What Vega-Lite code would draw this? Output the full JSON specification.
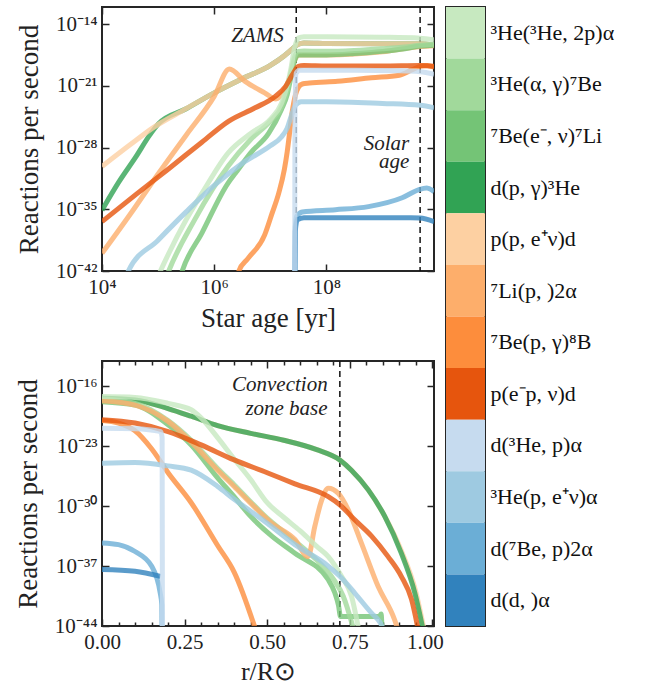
{
 "$schema": "https://vega.github.io/schema/vega-lite/v6.json",
 "padding": {"left": 13, "top": 5, "right": 5, "bottom": 1},
 "background": "white",
 "config": {
  "view": {"stroke": "#262626", "strokeWidth": 2},
  "font": "Liberation Serif",
  "axis": {"domain": false, "grid": false, "tickColor": "#262626", "tickWidth": 1.5, "tickSize": -7, "labelFont": "Liberation Serif", "labelFontSize": 21, "labelColor": "#222", "labelPadding": 12, "labelFlush": false, "labelOverlap": false, "titleFont": "Liberation Serif", "titleFontSize": 27, "titleFontWeight": "normal", "titleColor": "#222", "titlePadding": 8}
 },
 "datasets": {
  "legend": [
   {"k":"A","label":"³He(³He, 2p)α"},{"k":"B","label":"³He(α, γ)⁷Be"},{"k":"C","label":"⁷Be(e⁻, ν)⁷Li"},{"k":"D","label":"d(p, γ)³He"},
   {"k":"E","label":"p(p, e⁺ν)d"},{"k":"F","label":"⁷Li(p, )2α"},{"k":"G","label":"⁷Be(p, γ)⁸B"},{"k":"H","label":"p(e⁻p, ν)d"},
   {"k":"I","label":"d(³He, p)α"},{"k":"J","label":"³He(p, e⁺ν)α"},{"k":"K","label":"d(⁷Be, p)2α"},{"k":"L","label":"d(d, )α"}
  ],
  "topRules": [{"t": 2.9e7}, {"t": 4.68e9}],
  "topText": [{"t": 1.73e7, "v": 1e-16, "txt": "ZAMS"}, {"t": 3.0e9, "v": 5.75e-29, "txt": "Solar"}, {"t": 3.0e9, "v": 4.8e-31, "txt": "age"}],
  "botRules": [{"x": 0.72}],
  "botText": [{"x": 0.683, "v": 2.6e-17, "txt": "Convection"}, {"x": 0.683, "v": 4.2e-20, "txt": "zone base"}],
  "topLines": [
   {"k":"D","t":1e4,"v":7.94e-36},{"k":"D","t":2e4,"v":1.26e-32},{"k":"D","t":3.98e4,"v":7.94e-30},{"k":"D","t":7.08e4,"v":2.51e-27},{"k":"D","t":1e5,"v":4.47e-26},{"k":"D","t":3.16e5,"v":2.51e-24},{"k":"D","t":1e6,"v":1.58e-22},{"k":"D","t":3.16e6,"v":6.31e-21},{"k":"D","t":1e7,"v":2e-19},{"k":"D","t":1.78e7,"v":2.51e-18},{"k":"D","t":2.51e7,"v":1.58e-17},{"k":"D","t":3.16e7,"v":5.01e-17},{"k":"D","t":3.98e7,"v":7.08e-17},{"k":"D","t":1e8,"v":6.31e-17},{"k":"D","t":1e9,"v":5.62e-17},{"k":"D","t":4.68e9,"v":5.62e-17},{"k":"D","t":8.32e9,"v":3.98e-17},
   {"k":"E","t":1e4,"v":7.08e-31},{"k":"E","t":3.16e4,"v":2e-28},{"k":"E","t":7.94e4,"v":1.58e-26},{"k":"E","t":3.16e5,"v":2.51e-24},{"k":"E","t":1e6,"v":1.58e-22},{"k":"E","t":3.16e6,"v":6.31e-21},{"k":"E","t":1e7,"v":2e-19},{"k":"E","t":1.78e7,"v":2.51e-18},{"k":"E","t":2.51e7,"v":1.58e-17},{"k":"E","t":3.16e7,"v":5.01e-17},{"k":"E","t":3.98e7,"v":7.08e-17},{"k":"E","t":1e8,"v":6.31e-17},{"k":"E","t":1e9,"v":5.62e-17},{"k":"E","t":4.68e9,"v":5.62e-17},{"k":"E","t":8.32e9,"v":3.98e-17},
   {"k":"F","t":1e4,"v":1e-40},{"k":"F","t":3.16e4,"v":2.51e-36},{"k":"F","t":1e5,"v":1e-31},{"k":"F","t":3.16e5,"v":2.51e-27},{"k":"F","t":1e6,"v":6.31e-23},{"k":"F","t":1.86e6,"v":7.94e-20},{"k":"F","t":3.55e6,"v":3.16e-21},{"k":"F","t":7.94e6,"v":1.58e-22},{"k":"F","t":1.26e7,"v":3.16e-23},{"k":"F","t":1.78e7,"v":3.16e-22},{"k":"F","t":2.24e7,"v":1e-20},{"k":"F","t":2.69e7,"v":6.31e-19},{"k":"F","t":3.16e7,"v":3.16e-18},{"k":"F","t":3.98e7,"v":3.16e-18},{"k":"F","t":1e8,"v":3.16e-18},{"k":"F","t":1e9,"v":7.08e-18},{"k":"F","t":4.68e9,"v":2.82e-17},{"k":"F","t":8.32e9,"v":3.55e-17},
   {"k":"C","t":2.4e5,"v":1e-43},{"k":"C","t":2.69e5,"v":1e-42},{"k":"C","t":6.03e5,"v":2e-38},{"k":"C","t":1.78e6,"v":1e-32},{"k":"C","t":2.4e6,"v":1.26e-31},{"k":"C","t":4.47e6,"v":2.51e-29},{"k":"C","t":9.33e6,"v":3.98e-27},{"k":"C","t":1.58e7,"v":2e-24},{"k":"C","t":2e7,"v":1e-22},{"k":"C","t":2.34e7,"v":1e-20},{"k":"C","t":2.69e7,"v":6.31e-19},{"k":"C","t":3.16e7,"v":3.16e-18},{"k":"C","t":3.98e7,"v":3.16e-18},{"k":"C","t":1e8,"v":3.16e-18},{"k":"C","t":3.16e8,"v":4.47e-18},{"k":"C","t":1e9,"v":7.94e-18},{"k":"C","t":2.51e9,"v":1.58e-17},{"k":"C","t":4.68e9,"v":3.16e-17},{"k":"C","t":8.32e9,"v":3.98e-17},
   {"k":"B","t":1.35e5,"v":1e-43},{"k":"B","t":1.55e5,"v":1e-42},{"k":"B","t":4.47e5,"v":6.31e-37},{"k":"B","t":1.78e6,"v":7.94e-31},{"k":"B","t":4.47e6,"v":7.94e-28},{"k":"B","t":1e7,"v":1e-25},{"k":"B","t":1.58e7,"v":3.98e-24},{"k":"B","t":2e7,"v":3.16e-22},{"k":"B","t":2.34e7,"v":3.16e-20},{"k":"B","t":2.69e7,"v":1.58e-18},{"k":"B","t":3.16e7,"v":7.94e-18},{"k":"B","t":3.98e7,"v":8.91e-18},{"k":"B","t":1e8,"v":7.94e-18},{"k":"B","t":3.16e8,"v":1e-17},{"k":"B","t":1e9,"v":1.58e-17},{"k":"B","t":2.51e9,"v":2.51e-17},{"k":"B","t":4.68e9,"v":3.98e-17},{"k":"B","t":8.32e9,"v":5.01e-17},
   {"k":"A","t":9.33e4,"v":1e-43},{"k":"A","t":1.1e5,"v":1e-42},{"k":"A","t":3.16e5,"v":6.31e-37},{"k":"A","t":6.31e5,"v":1e-33},{"k":"A","t":1.78e6,"v":2.51e-29},{"k":"A","t":4.47e6,"v":3.98e-27},{"k":"A","t":1e7,"v":1.58e-25},{"k":"A","t":1.58e7,"v":1e-23},{"k":"A","t":2e7,"v":1e-21},{"k":"A","t":2.34e7,"v":1e-19},{"k":"A","t":2.69e7,"v":1.58e-17},{"k":"A","t":3.16e7,"v":2.51e-16},{"k":"A","t":3.98e7,"v":3.55e-16},{"k":"A","t":1e8,"v":3.55e-16},{"k":"A","t":1e9,"v":3.16e-16},{"k":"A","t":4.68e9,"v":2.51e-16},{"k":"A","t":8.32e9,"v":1.58e-16},
   {"k":"G","t":2.4e6,"v":1e-44},{"k":"G","t":2.75e6,"v":1e-42},{"k":"G","t":3.98e6,"v":2.51e-41},{"k":"G","t":7.94e6,"v":1.26e-38},{"k":"G","t":1.07e7,"v":3.16e-36},{"k":"G","t":1.41e7,"v":6.31e-34},{"k":"G","t":1.78e7,"v":3.16e-31},{"k":"G","t":2e7,"v":3.16e-29},{"k":"G","t":2.24e7,"v":1e-26},{"k":"G","t":2.45e7,"v":1e-24},{"k":"G","t":2.82e7,"v":1e-22},{"k":"G","t":3.16e7,"v":6.31e-22},{"k":"G","t":3.72e7,"v":1.58e-21},{"k":"G","t":5.01e7,"v":2e-21},{"k":"G","t":1.58e8,"v":3.16e-21},{"k":"G","t":6.31e8,"v":7.94e-21},{"k":"G","t":2e9,"v":1.58e-20},{"k":"G","t":3.31e9,"v":6.31e-20},{"k":"G","t":4.68e9,"v":1.58e-19},{"k":"G","t":6.31e9,"v":2e-19},{"k":"G","t":8.32e9,"v":1.26e-19},
   {"k":"H","t":1e4,"v":3.98e-37},{"k":"H","t":3.89e4,"v":3.98e-34},{"k":"H","t":1.55e5,"v":3.98e-31},{"k":"H","t":6.03e5,"v":3.98e-28},{"k":"H","t":1.82e6,"v":1e-25},{"k":"H","t":5.37e6,"v":3.16e-24},{"k":"H","t":1.23e7,"v":6.31e-23},{"k":"H","t":1.86e7,"v":7.94e-22},{"k":"H","t":2.45e7,"v":1.58e-20},{"k":"H","t":3.16e7,"v":1.58e-19},{"k":"H","t":3.98e7,"v":2e-19},{"k":"H","t":1e8,"v":1.78e-19},{"k":"H","t":1e9,"v":1.78e-19},{"k":"H","t":4.68e9,"v":2e-19},{"k":"H","t":8.32e9,"v":1.58e-19},
   {"k":"J","t":2.51e4,"v":1e-43},{"k":"J","t":2.95e4,"v":1e-42},{"k":"J","t":1e5,"v":3.16e-39},{"k":"J","t":3.16e5,"v":5.01e-36},{"k":"J","t":1e6,"v":5.01e-33},{"k":"J","t":3.16e6,"v":1.58e-30},{"k":"J","t":1e7,"v":1.58e-28},{"k":"J","t":1.58e7,"v":1.58e-27},{"k":"J","t":2e7,"v":1.58e-26},{"k":"J","t":2.4e7,"v":5.01e-25},{"k":"J","t":2.82e7,"v":6.31e-24},{"k":"J","t":3.55e7,"v":1.58e-23},{"k":"J","t":1e8,"v":1.58e-23},{"k":"J","t":1e9,"v":1e-23},{"k":"J","t":4.68e9,"v":6.31e-24},{"k":"J","t":8.32e9,"v":3.16e-24},
   {"k":"K","t":2.72e7,"v":1e-46},{"k":"K","t":2.79e7,"v":1e-37},{"k":"K","t":2.95e7,"v":1.58e-36},{"k":"K","t":3.72e7,"v":5.01e-36},{"k":"K","t":1.45e8,"v":8.91e-36},{"k":"K","t":5.62e8,"v":2e-35},{"k":"K","t":2.24e9,"v":2e-34},{"k":"K","t":4.37e9,"v":1.58e-33},{"k":"K","t":6.17e9,"v":2.51e-33},{"k":"K","t":8.32e9,"v":1e-33},
   {"k":"L","t":2.72e7,"v":1e-46},{"k":"L","t":2.79e7,"v":3.16e-38},{"k":"L","t":3.02e7,"v":6.31e-37},{"k":"L","t":3.98e7,"v":1.12e-36},{"k":"L","t":3.16e8,"v":1.12e-36},{"k":"L","t":3.16e9,"v":1.12e-36},{"k":"L","t":4.68e9,"v":1e-36},{"k":"L","t":8.32e9,"v":3.98e-37},
   {"k":"I","t":2.72e7,"v":1e-46},{"k":"I","t":2.75e7,"v":1e-25},{"k":"I","t":2.88e7,"v":2.51e-20},{"k":"I","t":3.31e7,"v":5.62e-20},{"k":"I","t":3.16e8,"v":5.62e-20},{"k":"I","t":2e9,"v":5.01e-20},{"k":"I","t":4.68e9,"v":3.98e-20},{"k":"I","t":8.32e9,"v":2e-20}
  ],
  "botLines": [
   {"k":"E","x":0,"v":3.98e-18},{"k":"E","x":0.1,"v":2.51e-18},{"k":"E","x":0.2,"v":2.51e-19},{"k":"E","x":0.27,"v":3.16e-20},{"k":"E","x":0.35,"v":2.51e-21},{"k":"E","x":0.45,"v":3.16e-22},{"k":"E","x":0.55,"v":5.01e-23},{"k":"E","x":0.65,"v":3.98e-24},{"k":"E","x":0.72,"v":2.51e-25},{"k":"E","x":0.755,"v":1.58e-26},{"k":"E","x":0.806,"v":7.94e-29},{"k":"E","x":0.856,"v":6.31e-32},{"k":"E","x":0.906,"v":6.31e-36},{"k":"E","x":0.95,"v":1e-40},{"k":"E","x":0.978,"v":1e-45},
   {"k":"D","x":0,"v":3.98e-18},{"k":"D","x":0.1,"v":2.51e-18},{"k":"D","x":0.2,"v":2.51e-19},{"k":"D","x":0.27,"v":3.16e-20},{"k":"D","x":0.35,"v":2.51e-21},{"k":"D","x":0.45,"v":3.16e-22},{"k":"D","x":0.55,"v":5.01e-23},{"k":"D","x":0.65,"v":3.98e-24},{"k":"D","x":0.72,"v":2.51e-25},{"k":"D","x":0.755,"v":1.58e-26},{"k":"D","x":0.806,"v":7.94e-29},{"k":"D","x":0.856,"v":6.31e-32},{"k":"D","x":0.906,"v":3.16e-36},{"k":"D","x":0.947,"v":7.08e-41},{"k":"D","x":0.975,"v":1e-45},
   {"k":"C","x":0,"v":1.58e-18},{"k":"C","x":0.1,"v":6.31e-19},{"k":"C","x":0.2,"v":3.16e-21},{"k":"C","x":0.27,"v":1.41e-23},{"k":"C","x":0.35,"v":2e-27},{"k":"C","x":0.4,"v":1.26e-29},{"k":"C","x":0.45,"v":6.31e-32},{"k":"C","x":0.514,"v":3.16e-34},{"k":"C","x":0.584,"v":3.16e-36},{"k":"C","x":0.685,"v":2.51e-39},{"k":"C","x":0.705,"v":7.08e-41},{"k":"C","x":0.716,"v":2.51e-42},{"k":"C","x":0.722,"v":1.26e-43},{"k":"C","x":0.84,"v":1.41e-43},{"k":"C","x":0.845,"v":2.51e-43},{"k":"C","x":0.848,"v":1e-45},
   {"k":"B","x":0,"v":3.16e-18},{"k":"B","x":0.1,"v":1e-18},{"k":"B","x":0.2,"v":1e-20},{"k":"B","x":0.27,"v":5.01e-23},{"k":"B","x":0.35,"v":2.51e-26},{"k":"B","x":0.4,"v":3.16e-28},{"k":"B","x":0.45,"v":3.16e-30},{"k":"B","x":0.5,"v":3.98e-32},{"k":"B","x":0.55,"v":1e-33},{"k":"B","x":0.6,"v":2.51e-35},{"k":"B","x":0.65,"v":5.01e-37},{"k":"B","x":0.7,"v":3.16e-39},{"k":"B","x":0.73,"v":3.16e-41},{"k":"B","x":0.766,"v":1e-45},
   {"k":"F","x":0,"v":2e-18},{"k":"F","x":0.1,"v":6.31e-19},{"k":"F","x":0.2,"v":7.94e-21},{"k":"F","x":0.27,"v":3.16e-23},{"k":"F","x":0.35,"v":1.58e-26},{"k":"F","x":0.4,"v":2e-28},{"k":"F","x":0.45,"v":2.24e-30},{"k":"F","x":0.514,"v":1e-32},{"k":"F","x":0.584,"v":1.26e-34},{"k":"F","x":0.624,"v":1.26e-36},{"k":"F","x":0.644,"v":3.98e-33},{"k":"F","x":0.665,"v":5.01e-30},{"k":"F","x":0.685,"v":1.26e-28},{"k":"F","x":0.715,"v":3.16e-29},{"k":"F","x":0.745,"v":3.98e-31},{"k":"F","x":0.785,"v":5.01e-35},{"k":"F","x":0.836,"v":3.98e-40},{"k":"F","x":0.886,"v":5.01e-44},{"k":"F","x":0.9,"v":1e-45},
   {"k":"A","x":0,"v":6.31e-18},{"k":"A","x":0.1,"v":5.01e-18},{"k":"A","x":0.2,"v":1e-18},{"k":"A","x":0.27,"v":1.78e-19},{"k":"A","x":0.3,"v":2e-20},{"k":"A","x":0.35,"v":1e-22},{"k":"A","x":0.4,"v":3.16e-25},{"k":"A","x":0.45,"v":1.26e-27},{"k":"A","x":0.5,"v":2.51e-30},{"k":"A","x":0.55,"v":5.01e-32},{"k":"A","x":0.6,"v":1.26e-33},{"k":"A","x":0.65,"v":2e-35},{"k":"A","x":0.685,"v":1.26e-36},{"k":"A","x":0.725,"v":6.31e-39},{"k":"A","x":0.755,"v":3.16e-41},{"k":"A","x":0.78,"v":1e-45},
   {"k":"G","x":0,"v":1e-20},{"k":"G","x":0.05,"v":5.01e-21},{"k":"G","x":0.1,"v":6.31e-22},{"k":"G","x":0.15,"v":5.01e-24},{"k":"G","x":0.2,"v":7.94e-27},{"k":"G","x":0.27,"v":2.51e-30},{"k":"G","x":0.35,"v":2.51e-35},{"k":"G","x":0.4,"v":2e-38},{"k":"G","x":0.47,"v":1e-45},
   {"k":"H","x":0,"v":1.26e-20},{"k":"H","x":0.1,"v":5.01e-21},{"k":"H","x":0.2,"v":5.01e-22},{"k":"H","x":0.3,"v":1.41e-23},{"k":"H","x":0.4,"v":2.51e-25},{"k":"H","x":0.5,"v":7.94e-27},{"k":"H","x":0.584,"v":3.98e-28},{"k":"H","x":0.685,"v":1.26e-29},{"k":"H","x":0.72,"v":1.41e-30},{"k":"H","x":0.765,"v":2.51e-32},{"k":"H","x":0.816,"v":3.16e-34},{"k":"H","x":0.866,"v":1.26e-36},{"k":"H","x":0.906,"v":6.31e-39},{"k":"H","x":0.937,"v":1.26e-41},{"k":"H","x":0.96,"v":1e-45},
   {"k":"J","x":0,"v":1e-25},{"k":"J","x":0.1,"v":1.26e-25},{"k":"J","x":0.2,"v":5.01e-26},{"k":"J","x":0.27,"v":1.58e-26},{"k":"J","x":0.35,"v":2e-28},{"k":"J","x":0.4,"v":6.31e-30},{"k":"J","x":0.45,"v":2.51e-31},{"k":"J","x":0.5,"v":1e-32},{"k":"J","x":0.584,"v":3.16e-35},{"k":"J","x":0.685,"v":1e-37},{"k":"J","x":0.72,"v":6.31e-39},{"k":"J","x":0.765,"v":7.08e-41},{"k":"J","x":0.816,"v":3.16e-43},{"k":"J","x":0.84,"v":3.16e-44},{"k":"J","x":0.86,"v":1e-45},
   {"k":"K","x":0,"v":5.01e-35},{"k":"K","x":0.05,"v":3.16e-35},{"k":"K","x":0.1,"v":5.01e-36},{"k":"K","x":0.15,"v":1e-37},{"k":"K","x":0.176,"v":7.94e-41},{"k":"K","x":0.181,"v":3.16e-42},{"k":"K","x":0.182,"v":1e-46},
   {"k":"L","x":0,"v":3.98e-38},{"k":"L","x":0.1,"v":2.51e-38},{"k":"L","x":0.177,"v":6.31e-39},
   {"k":"I","x":0,"v":1.26e-21},{"k":"I","x":0.1,"v":1.12e-21},{"k":"I","x":0.178,"v":5.01e-22},{"k":"I","x":0.182,"v":1e-22},{"k":"I","x":0.183,"v":1e-46}
  ]
 },
 "spacing": 0,
 "hconcat": [
  {
   "spacing": 27,
   "vconcat": [
    {
     "width": 332, "height": 264,
     "layer": [
      {
       "data": {"name": "topRules"},
       "mark": {"type": "rule", "strokeDash": [6, 4], "strokeWidth": 1.5, "color": "#111"},
       "encoding": {"x": {"field": "t", "type": "quantitative", "axis": {"orient": "top", "values": [1e4, 1e6, 1e8], "labels": false, "title": null}}}
      },
      {
       "data": {"name": "topLines"},
       "mark": {"type": "line", "strokeWidth": 5, "opacity": 0.8, "clip": true, "interpolate": "monotone", "strokeJoin": "round"},
       "encoding": {
        "x": {"field": "t", "type": "quantitative", "scale": {"type": "log", "domain": [1e4, 8.28e9], "nice": false},
              "axis": {"orient": "bottom", "values": [1e4, 1e6, 1e8], "title": "Star age [yr]", "labelExpr": "round(log(datum.value)/LN10) == 4 ? '10⁴' : round(log(datum.value)/LN10) == 6 ? '10⁶' : '10⁸'"}},
        "y": {"field": "v", "type": "quantitative", "scale": {"type": "log", "domain": [1e-42, 8.5e-13], "nice": false},
              "axis": {"orient": "left", "values": [1e-42, 1e-35, 1e-28, 1e-21, 1e-14], "title": "Reactions per second", "titlePadding": 12, "labelExpr": "round(log(datum.value)/LN10) == -14 ? '10⁻¹⁴' : round(log(datum.value)/LN10) == -21 ? '10⁻²¹' : round(log(datum.value)/LN10) == -28 ? '10⁻²⁸' : round(log(datum.value)/LN10) == -35 ? '10⁻³⁵' : '10⁻⁴²'"}},
        "color": {"field": "k", "type": "nominal", "legend": null, "scale": {"domain": ["A","B","C","D","E","F","G","H","I","J","K","L"], "range": ["#c7e9c0","#a1d99b","#74c476","#31a354","#fdd0a2","#fdae6b","#fd8d3c","#e6550d","#c6dbef","#9ecae1","#6baed6","#3182bd"]}}
       }
      },
      {
       "data": {"name": "topText"},
       "mark": {"type": "text", "align": "right", "baseline": "alphabetic", "fontStyle": "italic", "fontSize": 21, "font": "Liberation Serif", "color": "#222"},
       "encoding": {
        "x": {"field": "t", "type": "quantitative", "axis": null},
        "y": {"field": "v", "type": "quantitative", "axis": {"orient": "right", "values": [1e-42, 1e-35, 1e-28, 1e-21, 1e-14], "labels": false, "title": null}},
        "text": {"field": "txt"}
       }
      }
     ],
     "resolve": {"axis": {"x": "independent", "y": "independent"}}
    },
    {
     "width": 332, "height": 265,
     "layer": [
      {
       "data": {"name": "botRules"},
       "mark": {"type": "rule", "strokeDash": [6, 4], "strokeWidth": 1.5, "color": "#111"},
       "encoding": {"x": {"field": "x", "type": "quantitative", "axis": {"orient": "top", "values": [0,0.05,0.1,0.15,0.2,0.25,0.3,0.35,0.4,0.45,0.5,0.55,0.6,0.65,0.7,0.75,0.8,0.85,0.9,0.95,1.0], "labels": false, "title": null, "tickSize": {"condition": {"test": "abs(datum.value*4 - round(datum.value*4)) < 0.001", "value": -7}, "value": -4}}}}
      },
      {
       "data": {"name": "botLines"},
       "mark": {"type": "line", "strokeWidth": 5, "opacity": 0.8, "clip": true, "interpolate": "monotone", "strokeJoin": "round"},
       "encoding": {
        "x": {"field": "x", "type": "quantitative", "scale": {"domain": [0, 1.005], "nice": false},
              "axis": {"orient": "bottom", "values": [0,0.05,0.1,0.15,0.2,0.25,0.3,0.35,0.4,0.45,0.5,0.55,0.6,0.65,0.7,0.75,0.8,0.85,0.9,0.95,1.0], "title": "r/R⊙", "titlePadding": 3, "titleFontSize": 26,
                       "labelExpr": "abs(datum.value*4 - round(datum.value*4)) < 0.001 ? format(datum.value, '.2f') : ''",
                       "labelAlign": {"condition": {"test": "datum.value > 0.99", "value": "right"}, "value": "center"},
                       "labelOffset": {"condition": {"test": "datum.value > 0.99", "value": 11}, "value": 0},
                       "tickSize": {"condition": {"test": "abs(datum.value*4 - round(datum.value*4)) < 0.001", "value": -7}, "value": -4}}},
        "y": {"field": "v", "type": "quantitative", "scale": {"type": "log", "domain": [1e-44, 8.9e-14], "nice": false},
              "axis": {"orient": "left", "values": [1e-44, 1e-37, 1e-30, 1e-23, 1e-16], "title": "Reactions per second", "titlePadding": 12, "labelExpr": "round(log(datum.value)/LN10) == -16 ? '10⁻¹⁶' : round(log(datum.value)/LN10) == -23 ? '10⁻²³' : round(log(datum.value)/LN10) == -30 ? '10⁻³⁰' : round(log(datum.value)/LN10) == -37 ? '10⁻³⁷' : '10⁻⁴⁴'"}},
        "color": {"field": "k", "type": "nominal", "legend": null, "scale": {"domain": ["A","B","C","D","E","F","G","H","I","J","K","L"], "range": ["#c7e9c0","#a1d99b","#74c476","#31a354","#fdd0a2","#fdae6b","#fd8d3c","#e6550d","#c6dbef","#9ecae1","#6baed6","#3182bd"]}}
       }
      },
      {
       "data": {"name": "botText"},
       "mark": {"type": "text", "align": "right", "baseline": "alphabetic", "fontStyle": "italic", "fontSize": 21, "font": "Liberation Serif", "color": "#222"},
       "encoding": {
        "x": {"field": "x", "type": "quantitative", "axis": null},
        "y": {"field": "v", "type": "quantitative", "axis": {"orient": "right", "values": [1e-44, 1e-37, 1e-30, 1e-23, 1e-16], "labels": false, "title": null}},
        "text": {"field": "txt"}
       }
      }
     ],
     "resolve": {"axis": {"x": "independent", "y": "independent"}}
    }
   ]
  },
  {
   "width": 39, "height": 619,
   "data": {"name": "legend"},
   "mark": {"type": "rect"},
   "encoding": {
    "y": {"field": "label", "type": "nominal", "sort": null, "scale": {"paddingInner": 0, "paddingOuter": 0},
          "axis": {"orient": "right", "title": null, "ticks": false, "labelPadding": 5, "labelFontSize": 22, "labelAlign": "left", "labelBaseline": "middle", "labelColor": "#111"}},
    "x": {"datum": 0, "type": "quantitative", "scale": {"domain": [0, 1]}, "axis": null},
    "x2": {"datum": 1},
    "color": {"field": "k", "type": "nominal", "legend": null, "scale": {"domain": ["A","B","C","D","E","F","G","H","I","J","K","L"], "range": ["#c7e9c0","#a1d99b","#74c476","#31a354","#fdd0a2","#fdae6b","#fd8d3c","#e6550d","#c6dbef","#9ecae1","#6baed6","#3182bd"]}}
   }
  }
 ]
}
